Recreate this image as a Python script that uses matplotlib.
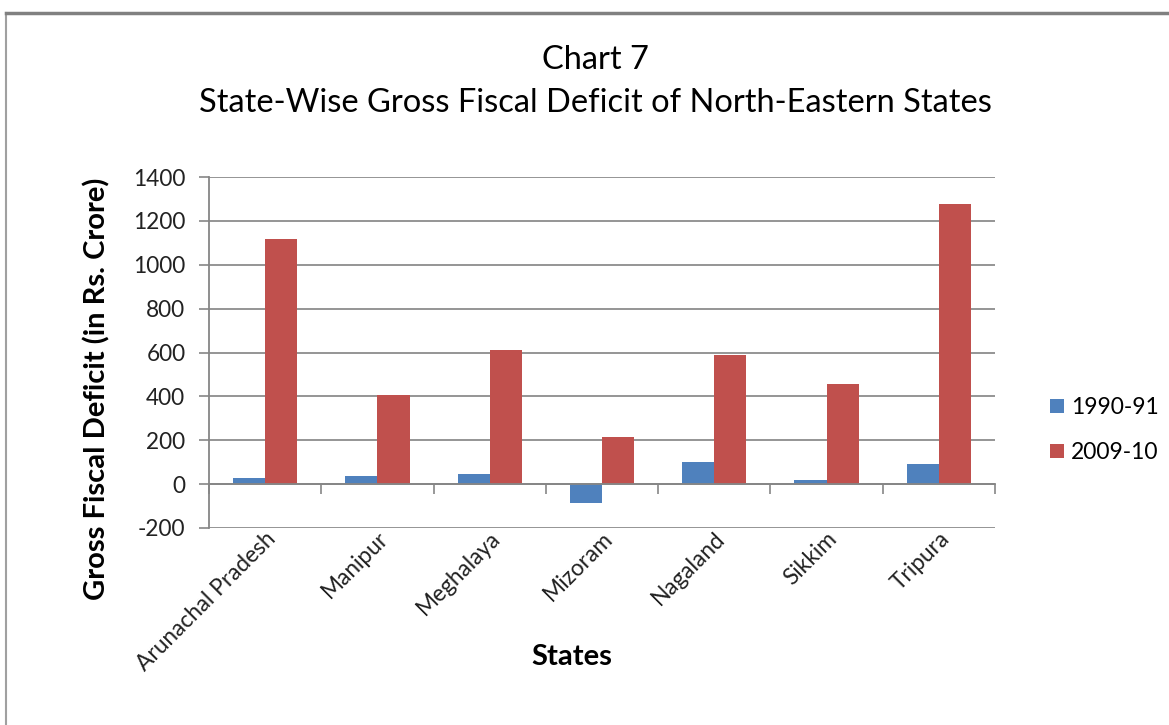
import numpy as np
import matplotlib
matplotlib.use("Agg")
import matplotlib.pyplot as plt
from matplotlib.lines import Line2D

plt.rcParams['font.family'] = ['Lato', 'DejaVu Sans']
plt.rcParams['axes.unicode_minus'] = False

# Values (Rs. Crore)
states = ['Arunachal Pradesh', 'Manipur', 'Meghalaya', 'Mizoram',
          'Nagaland', 'Sikkim', 'Tripura']
fd_1990 = [26, 38, 44, -88, 101, 21, 91]
fd_2009 = [1118, 404, 612, 213, 590, 457, 1275]
series_labels = ['1990-91', '2009-10']
colors = ['#4F81BD', '#C0504D']
yticks = list(range(-200, 1401, 200))

W, H = 1169, 725
fig = plt.figure(figsize=(W / 100, H / 100), dpi=100)

# frame of the chart object (top and left edge visible)
fig.add_artist(Line2D([6 / W, 6 / W], [0, 1 - 13 / H], color='#a0a0a0', lw=1.5))
fig.add_artist(Line2D([6 / W, 1], [1 - 13 / H, 1 - 13 / H], color='#808080', lw=2.5))

ax = fig.add_axes([209 / W, 1 - 528 / H, 786 / W, 351 / H])
x = np.arange(len(states))
bw = 0.286
ax.bar(x - bw / 2, fd_1990, bw, color=colors[0], label=series_labels[0], zorder=3)
ax.bar(x + bw / 2, fd_2009, bw, color=colors[1], label=series_labels[1], zorder=3)

ax.set_xlim(-0.5, len(states) - 0.5)
ax.set_ylim(-200, 1400)
ax.set_yticks(yticks)
ax.tick_params(axis='y', length=7, width=1.2, color='#868686', labelsize=16.3,
               labelcolor='#222222', pad=10)
ax.set_xticks(x)
ax.set_xticklabels(states, rotation=45, ha='right', rotation_mode='anchor',
                   fontsize=16.3, color='#222222')
ax.tick_params(axis='x', length=0, pad=0)
ax.grid(axis='y', color='#8c8c8c', lw=1.3, zorder=0)
for s in ['top', 'right', 'bottom']:
    ax.spines[s].set_visible(False)
ax.spines['left'].set_color('#868686')
ax.spines['left'].set_linewidth(1.3)

# category axis crossing at zero, with ticks between categories
ax2 = ax.twiny()
ax2.set_xlim(ax.get_xlim())
ax2.xaxis.set_ticks_position('bottom')
ax2.spines['bottom'].set_position(('data', 0))
ax2.spines['bottom'].set_color('#868686')
ax2.spines['bottom'].set_linewidth(1.3)
for s in ['top', 'right', 'left']:
    ax2.spines[s].set_visible(False)
ax2.set_xticks(np.arange(-0.5, len(states), 1.0))
ax2.set_xticklabels([])
ax2.tick_params(axis='x', length=7, width=1.2, color='#868686')

ax.set_ylabel('Gross Fiscal Deficit (in Rs. Crore)', fontsize=21,
              fontweight='bold', va='center')
ax.yaxis.set_label_coords((97 - 209) / 786, 1 - (389 - 177) / 351)
ax.set_xlabel('States', fontsize=21, fontweight='bold', va='center')
ax.xaxis.set_label_coords((572 - 209) / 786, -(657 - 528) / 351)

fig.text(595 / W, 1 - 60 / H, 'Chart 7', ha='center', va='center', fontsize=23.5)
fig.text(595 / W, 1 - 103 / H, 'State-Wise Gross Fiscal Deficit of North-Eastern States',
         ha='center', va='center', fontsize=23.5)

ax.legend(loc='center left', bbox_to_anchor=(1050 / W, 1 - 430 / H),
          bbox_transform=fig.transFigure, frameon=False, fontsize=16.5,
          borderpad=0, borderaxespad=0,
          handlelength=0.6, handleheight=0.6, handletextpad=0.3,
          labelspacing=1.05)

fig.savefig('out.png', dpi=100)
